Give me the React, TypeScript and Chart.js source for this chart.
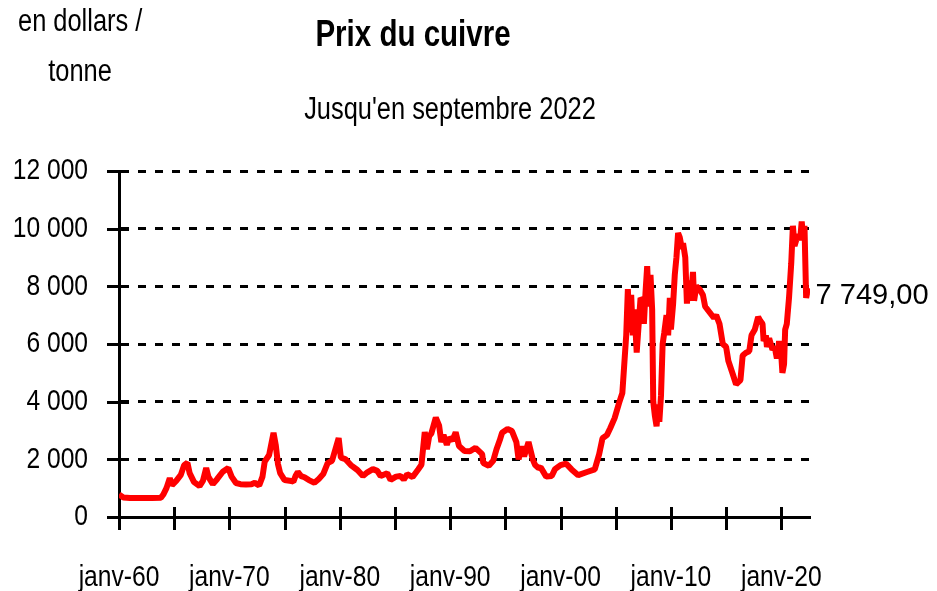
import { useEffect, useRef } from 'react';
import { Chart, registerables } from 'chart.js';

Chart.register(...registerables);

const years = [
  1960.0, 1960.4, 1961.0, 1962.0, 1963.0, 1963.8, 1964.0, 1964.3, 1964.6, 1964.8,
  1965.2, 1965.6, 1965.9, 1966.2, 1966.4, 1966.8, 1967.3, 1967.6, 1967.9, 1968.1,
  1968.5, 1968.9, 1969.4, 1969.9, 1970.2, 1970.6, 1971.0, 1971.5, 1972.0, 1972.3,
  1972.5, 1972.7, 1973.0, 1973.2, 1973.6, 1974.0, 1974.2, 1974.4, 1974.6, 1975.0,
  1975.6, 1975.8, 1976.0, 1976.2, 1976.5, 1976.8, 1977.2, 1977.7, 1978.1, 1978.5,
  1978.9, 1979.3, 1979.9, 1980.1, 1980.5, 1981.0, 1981.6, 1982.1, 1982.5, 1983.0,
  1983.4, 1983.7, 1984.3, 1984.6, 1985.1, 1985.5, 1985.8, 1986.1, 1986.6, 1987.1,
  1987.4, 1987.7, 1987.9, 1988.1, 1988.3, 1988.7, 1989.0, 1989.2, 1989.4, 1989.7,
  1989.9, 1990.2, 1990.5, 1990.8, 1991.3, 1991.8, 1992.3, 1992.9, 1993.0, 1993.5,
  1993.9, 1994.2, 1994.5, 1994.7, 1995.2, 1995.6, 1996.0, 1996.2, 1996.5, 1996.7,
  1997.1, 1997.5, 1997.7, 1998.0, 1998.2, 1998.7, 1999.2, 1999.5, 2000.0, 2000.5,
  2001.0, 2001.6, 2002.4, 2003.1, 2003.5, 2003.8, 2004.2, 2004.5, 2004.9, 2005.3,
  2005.6, 2005.95, 2006.1, 2006.25, 2006.4, 2006.55, 2006.7, 2006.9, 2007.1, 2007.25,
  2007.45, 2007.55, 2007.7, 2007.85, 2008.0, 2008.15, 2008.3, 2008.4, 2008.55, 2008.7,
  2008.85, 2008.95, 2009.1, 2009.25, 2009.4, 2009.6, 2009.75, 2009.9, 2010.0, 2010.2,
  2010.35, 2010.5, 2010.65, 2010.8, 2011.0, 2011.1, 2011.3, 2011.45, 2011.6, 2011.8,
  2012.0, 2012.1, 2012.3, 2012.6, 2012.9, 2013.1, 2013.5, 2013.9, 2014.1, 2014.4,
  2014.7, 2015.0, 2015.2, 2015.6, 2015.9, 2016.3, 2016.5, 2016.8, 2017.1, 2017.3,
  2017.6, 2017.9, 2018.1, 2018.3, 2018.4, 2018.6, 2018.7, 2018.9, 2019.2, 2019.4,
  2019.6, 2019.8, 2020.0, 2020.1, 2020.25, 2020.35, 2020.5, 2020.7, 2020.9, 2021.05,
  2021.2, 2021.35, 2021.55, 2021.7, 2021.85, 2021.95, 2022.1, 2022.25, 2022.4, 2022.55,
];

const prices = [
  780, 680, 660, 660, 660, 670, 770, 1000, 1350, 1100,
  1260, 1460, 1800, 1880, 1520, 1210, 1075, 1250, 1700, 1390,
  1140, 1320, 1570, 1700, 1400, 1180, 1140, 1130, 1140, 1190,
  1140, 1090, 1400, 1920, 2150, 2920, 2500, 1840, 1520, 1280,
  1250, 1225, 1430, 1560, 1420, 1380, 1280, 1190, 1320, 1490,
  1870, 1950, 2740, 2060, 2010, 1800, 1630, 1420, 1550, 1660,
  1600, 1420, 1520, 1290, 1400, 1420, 1300, 1480, 1390, 1650,
  1810, 2950, 2350, 2800, 2900, 3450, 3170, 2600, 2850, 2500,
  2750, 2650, 2940, 2460, 2290, 2280, 2400, 2180, 1870, 1780,
  1950, 2350, 2670, 2920, 3050, 2980, 2600, 2000, 2450, 2100,
  2600, 1980, 1800, 1700, 1720, 1400, 1420, 1660, 1800, 1850,
  1650, 1450, 1560, 1650, 2180, 2730, 2840, 3080, 3430, 3950,
  4300, 6300, 7900, 6400, 7700, 6300, 7200, 5700, 6800, 7600,
  7500, 6700, 7800, 8700, 7300, 8400, 7200, 4000, 3500, 3150,
  3900, 3300, 4200, 6000, 6400, 7000, 6300, 7600, 6500, 7400,
  8400, 9000, 9850, 9700, 9300, 9500, 9000, 7400, 8200, 7500,
  8500, 7500, 8000, 7900, 7700, 7300, 7100, 6900, 7000, 6700,
  6000, 5900, 5420, 4960, 4600, 4750, 5600, 5700, 5750, 6300,
  6500, 6940, 6800, 6700, 6100, 6300, 5900, 6200, 5800, 5900,
  5500, 6100, 5600, 5000, 5300, 6500, 6700, 7600, 8800, 10100,
  9400, 9600, 9800, 9600, 10250, 9800, 10100, 7600, 7900, 7749,
];

const yTickValues = [0, 2000, 4000, 6000, 8000, 10000, 12000];
const yTickLabels = ['0', '2 000', '4 000', '6 000', '8 000', '10 000', '12 000'];
const xTickValues = [1960, 1965, 1970, 1975, 1980, 1985, 1990, 1995, 2000, 2005, 2010, 2015, 2020];
const xTickLabels = ['janv-60', '', 'janv-70', '', 'janv-80', '', 'janv-90', '', 'janv-00', '', 'janv-10', '', 'janv-20'];

const titleText = 'Prix du cuivre';
const subtitleText = "Jusqu'en septembre 2022";
const unitLines = ['en dollars /', 'tonne'];
const lastValueLabel = '7 749,00';

const FONT = "'Liberation Sans', Arial, sans-serif";
const NARROW = 0.82;

function drawNarrowText(ctx: CanvasRenderingContext2D, text: string, x: number, y: number, align: 'left' | 'center' | 'right', font: string, sx: number = NARROW) {
  ctx.save();
  ctx.font = font;
  ctx.textBaseline = 'middle';
  ctx.textAlign = 'left';
  const w = ctx.measureText(text).width * sx;
  let left = x;
  if (align === 'center') left = x - w / 2;
  else if (align === 'right') left = x - w;
  ctx.translate(left, y);
  ctx.scale(sx, 1);
  ctx.fillText(text, 0, 0);
  ctx.restore();
}

const textPlugin = {
  id: 'textPlugin',
  afterDraw(chart: any) {
    const ctx = chart.ctx as CanvasRenderingContext2D;
    const xs = chart.scales.x;
    const ys = chart.scales.y;
    ctx.save();
    ctx.fillStyle = '#000';
    const regular = `30px ${FONT}`;
    drawNarrowText(ctx, unitLines[0], 18, 22, 'left', `31px ${FONT}`);
    drawNarrowText(ctx, unitLines[1], 80, 72, 'center', `31px ${FONT}`);
    drawNarrowText(ctx, titleText, 413, 36, 'center', `bold 36px ${FONT}`);
    drawNarrowText(ctx, subtitleText, 450, 110, 'center', `31px ${FONT}`);
    yTickValues.forEach((v, i) => {
      drawNarrowText(ctx, yTickLabels[i], 88, ys.getPixelForValue(v), 'right', regular);
    });
    xTickValues.forEach((v, i) => {
      if (xTickLabels[i]) drawNarrowText(ctx, xTickLabels[i], xs.getPixelForValue(v), 578, 'center', regular);
    });
    const meta = chart.getDatasetMeta(0);
    const pt = meta.data[meta.data.length - 1];
    if (pt) drawNarrowText(ctx, lastValueLabel, pt.x + 6, pt.y + 2, 'left', regular, 0.97);
    ctx.restore();
  },
};

const crossTickPlugin = {
  id: 'crossTicks',
  afterDraw(chart: any) {
    const ctx = chart.ctx;
    const xs = chart.scales.x;
    const ys = chart.scales.y;
    const area = chart.chartArea;
    ctx.save();
    ctx.strokeStyle = '#000';
    ctx.lineWidth = 3;
    ctx.beginPath();
    xs.ticks.forEach((t: any) => {
      const px = Math.round(xs.getPixelForValue(t.value)) + 0.5;
      ctx.moveTo(px, area.bottom - 10);
      ctx.lineTo(px, area.bottom + 13);
    });
    ys.ticks.forEach((t: any) => {
      const py = Math.round(ys.getPixelForValue(t.value)) + 0.5;
      ctx.moveTo(area.left - 12, py);
      ctx.lineTo(area.left + 10, py);
    });
    ctx.stroke();
    ctx.restore();
  },
};

export default function App() {
  const canvasRef = useRef<HTMLCanvasElement | null>(null);

  useEffect(() => {
    document.body.style.margin = '0';
    const canvas = canvasRef.current;
    if (!canvas) return;
    const data = years.map((yr, i) => ({ x: yr, y: prices[i] }));
    const chart = new Chart(canvas, {
      type: 'line',
      data: {
        datasets: [
          {
            data,
            borderColor: '#ff0000',
            backgroundColor: '#ff0000',
            borderWidth: 6,
            pointRadius: 0,
            tension: 0,
            borderJoinStyle: 'bevel',
            borderCapStyle: 'butt',
            fill: false,
          } as any,
        ],
      },
      options: {
        animation: false,
        responsive: true,
        maintainAspectRatio: false,
        devicePixelRatio: 1,
        layout: { padding: { top: 171, right: 127, bottom: 0, left: 0 } },
        plugins: {
          legend: { display: false },
          tooltip: { enabled: false },
          title: { display: false },
        },
        scales: {
          x: {
            type: 'linear',
            min: 1960,
            max: 2022.6,
            afterBuildTicks: (scale: any) => {
              scale.ticks = xTickValues.map((v) => ({ value: v }));
            },
            afterFit: (scale: any) => {
              scale.height = 74;
            },
            grid: { display: true, drawOnChartArea: false, drawTicks: false },
            border: { display: true, color: '#000', width: 3 },
            ticks: { display: false },
          },
          y: {
            type: 'linear',
            min: 0,
            max: 12000,
            afterBuildTicks: (scale: any) => {
              scale.ticks = yTickValues.map((v) => ({ value: v }));
            },
            afterFit: (scale: any) => {
              scale.width = 119;
            },
            grid: {
              display: true,
              drawTicks: false,
              lineWidth: 3,
              color: (c: any) => (c.tick && c.tick.value === 0 ? 'rgba(0,0,0,0)' : '#000'),
            },
            border: { display: true, color: '#000', width: 3, dash: [8, 9] },
            ticks: { display: false },
          },
        },
      },
      plugins: [crossTickPlugin, textPlugin],
    });
    return () => chart.destroy();
  }, []);

  return (
    <div style={{ position: 'absolute', left: 0, top: 0, width: 937, height: 591, background: '#fff' }}>
      <canvas ref={canvasRef} />
    </div>
  );
}
